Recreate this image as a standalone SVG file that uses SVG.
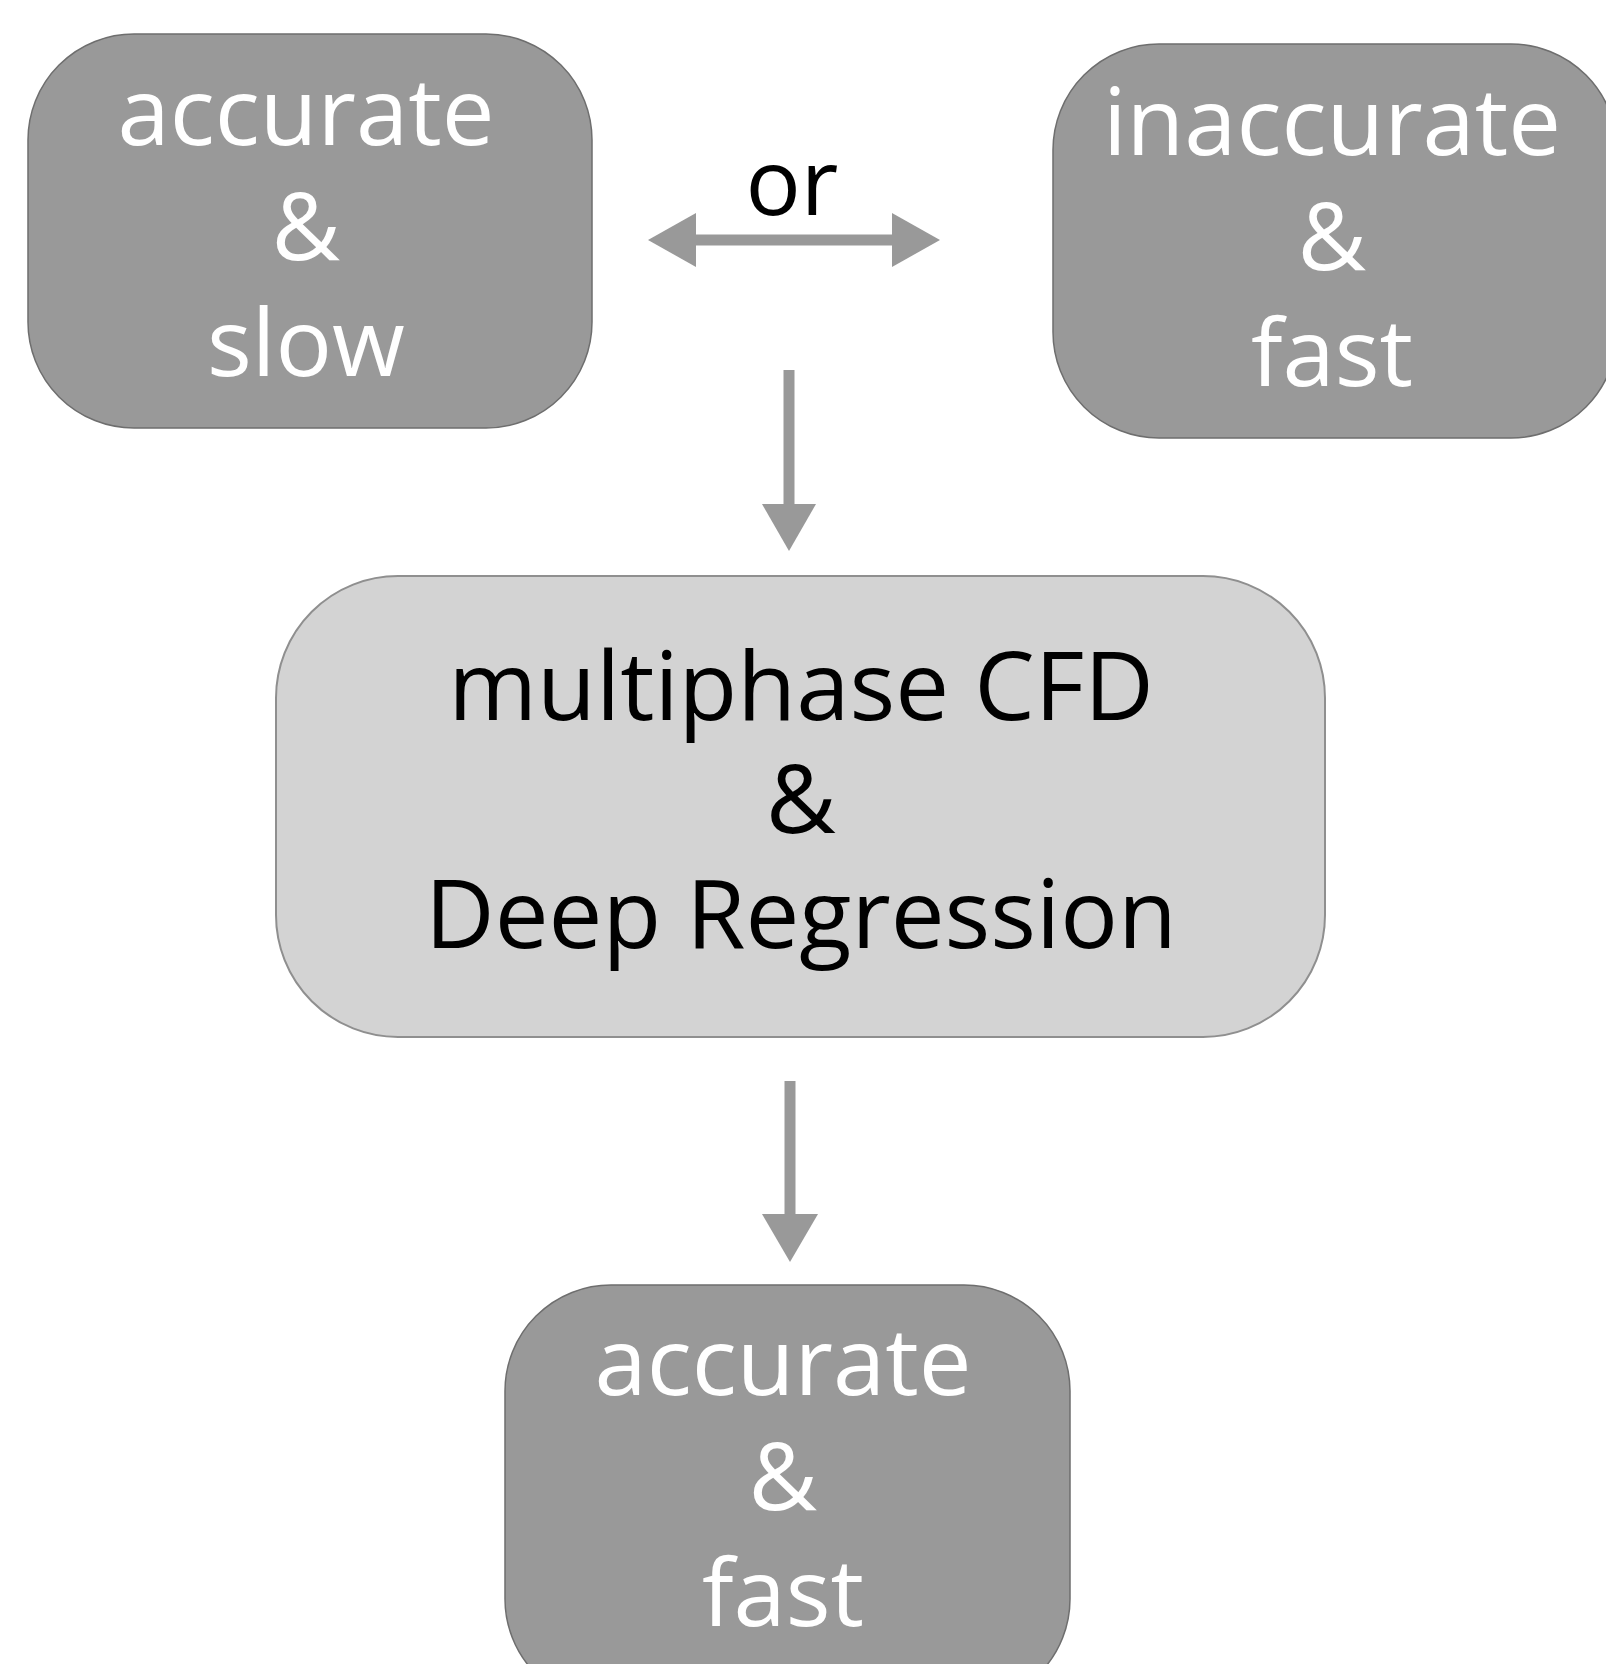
<svg xmlns="http://www.w3.org/2000/svg" width="1606" height="1664" viewBox="0 0 1606 1664">
<style>
.dark{fill:#999999;stroke:#6e6e6e;stroke-width:1.5}
.light{fill:#d3d3d3;stroke:#8f8f8f;stroke-width:2}
.wt{font-family:"Open Sans","Noto Sans",sans-serif;font-size:94px;fill:#ffffff;text-anchor:middle}
.bt{font-family:"Open Sans","Noto Sans",sans-serif;font-size:96px;fill:#000000;text-anchor:middle}
.line{stroke:#999999;stroke-width:11;fill:none}
.head{fill:#999999}
</style>
<rect width="1606" height="1664" fill="#ffffff"/>
<g id="node-accurate-slow">
<rect class="dark" x="28" y="34" width="564" height="394" rx="106" ry="106"/>
<text class="wt" x="306" y="145">accurate</text>
<text class="wt" x="306" y="260">&amp;</text>
<text class="wt" x="306" y="376">slow</text>
</g>
<g id="node-inaccurate-fast">
<rect class="dark" x="1053" y="44" width="564" height="394" rx="106" ry="106"/>
<text class="wt" x="1332" y="155">inaccurate</text>
<text class="wt" x="1332" y="270">&amp;</text>
<text class="wt" x="1332" y="386">fast</text>
</g>
<g id="node-cfd">
<rect class="light" x="276" y="576" width="1049" height="461" rx="122" ry="122"/>
<text class="bt" x="801" y="720">multiphase CFD</text>
<text class="bt" x="801" y="833">&amp;</text>
<text class="bt" x="801" y="948">Deep Regression</text>
</g>
<g id="node-accurate-fast">
<rect class="dark" x="505" y="1285" width="565" height="420" rx="106" ry="106"/>
<text class="wt" x="783" y="1395">accurate</text>
<text class="wt" x="783" y="1510">&amp;</text>
<text class="wt" x="783" y="1626">fast</text>
</g>
<g id="connectors">
<line class="line" x1="694" y1="240" x2="893" y2="240"/>
<polygon class="head" points="648,240 696,213 696,267"/>
<polygon class="head" points="940,240 892,213 892,267"/>
<text x="792" y="215" style="font-family:'Open Sans','Noto Sans',sans-serif;font-size:92px;fill:#000000;text-anchor:middle">or</text>
<line class="line" x1="789" y1="370" x2="789" y2="506"/>
<polygon class="head" points="762,504 816,504 789,551"/>
<line class="line" x1="790" y1="1081" x2="790" y2="1216"/>
<polygon class="head" points="762,1214 818,1214 790,1262"/>
</g>
</svg>
